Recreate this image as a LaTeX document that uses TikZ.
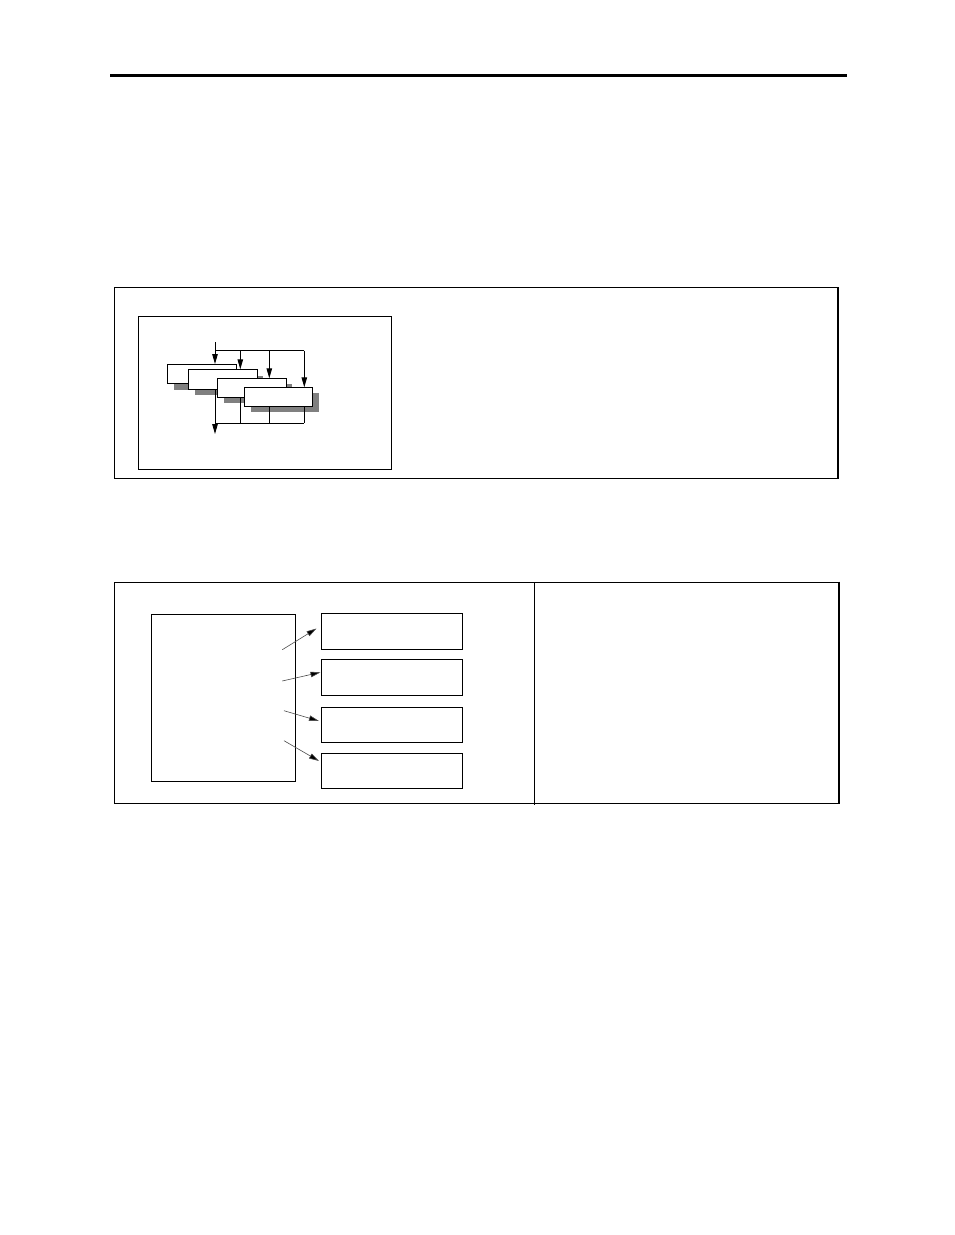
\documentclass[tikz,border=0pt]{standalone}
\usetikzlibrary{arrows.meta}
\begin{document}
\begin{tikzpicture}[x=1pt,y=-1pt,
  frame/.style={draw=black,line width=1pt},
  thickedge/.style={draw=black,line width=2pt},
  box/.style={draw=black,fill=white,line width=0.9pt},
  shadowbox/.style={fill=black!50,draw=none},
  wire/.style={draw=black,line width=0.9pt},
  tip/.style={-{Triangle[length=10pt,width=5.5pt]}},
  thinarrow/.style={draw=black!70,line width=0.6pt,-{Triangle[length=10pt,width=5.5pt,fill=black]}}
]
\useasboundingbox (0,0) rectangle (954,1235);
% top rule
\draw[line width=2.6pt] (110,75.5) -- (847,75.5);

% ---- frame 1 ----
\draw[frame] (114.3,287.5) rectangle (837.5,478.5);
\draw[thickedge] (837.5,287) -- (837.5,479.3);
\draw[box] (138.3,316.5) rectangle (391,469);

% top input wires
\coordinate (in0) at (215,342);
\coordinate (j1) at (215,350.7);
\coordinate (j2) at (240.3,350.7);
\coordinate (j3) at (269.3,350.7);
\coordinate (j4) at (304.3,350.7);
\draw[wire] (in0) -- (j1) -- (j4);

% stacked boxes with shadows
\fill[shadowbox] (174,370) rectangle (243,390);
\draw[box] (167.3,364) rectangle (236.7,383.3);
\fill[shadowbox] (195,375.5) rectangle (263,395.3);
\draw[box] (188.3,369.3) rectangle (257.7,389.3);
\fill[shadowbox] (223.5,384) rectangle (292,402.7);
\draw[box] (217.3,378.3) rectangle (286.7,397.3);
\fill[shadowbox] (250.5,393) rectangle (319,411.7);
\draw[box] (244.3,387.3) rectangle (312.3,406.7);

\coordinate (b1) at (215,364);
\coordinate (b2) at (240.3,369.3);
\coordinate (b3) at (269.3,378.3);
\coordinate (b4) at (304.3,387.3);
\draw[wire,tip] (j1) -- (b1);
\draw[wire,tip] (j2) -- (b2);
\draw[wire,tip] (j3) -- (b3);
\draw[wire,tip] (j4) -- (b4);

% bottom output wires
\coordinate (o1) at (215,389.3);
\coordinate (o2) at (240.3,397.3);
\coordinate (o3) at (269.3,406.7);
\coordinate (o4) at (304.3,406.7);
\coordinate (k1) at (215,423.3);
\coordinate (k2) at (240.3,423.3);
\coordinate (k3) at (269.3,423.3);
\coordinate (k4) at (304.3,423.3);
\coordinate (out) at (215,434);
\draw[wire] (o1) -- (k1);
\draw[wire] (o2) -- (k2);
\draw[wire] (o3) -- (k3);
\draw[wire] (o4) -- (k4);
\draw[wire] (k1) -- (k4);
\draw[wire,tip] (k1) -- (out);

% ---- frame 2 ----
\draw[frame] (114.3,582) rectangle (838.5,803);
\draw[thickedge] (838.5,581.5) -- (838.5,803.8);
\draw[line width=0.9pt] (534.5,582) -- (534.5,805);

\node[box,minimum width=144pt,minimum height=167pt,inner sep=0pt,anchor=north west] (src) at (151.3,614.3) {};
\node[box,minimum width=140.4pt,minimum height=35.7pt,inner sep=0pt,anchor=north west] (d1) at (321.3,613.3) {};
\node[box,minimum width=140.4pt,minimum height=35.7pt,inner sep=0pt,anchor=north west] (d2) at (321.3,659.3) {};
\node[box,minimum width=140.4pt,minimum height=35pt,inner sep=0pt,anchor=north west] (d3) at (321.3,707.3) {};
\node[box,minimum width=140.4pt,minimum height=35pt,inner sep=0pt,anchor=north west] (d4) at (321.3,753.3) {};

\coordinate (s1) at (282.3,649.7);
\coordinate (s2) at (282.3,681);
\coordinate (s3) at (284,710.7);
\coordinate (s4) at (284,740.7);
\draw[thinarrow] (s1) -- (316.5,628.5);
\draw[thinarrow] (s2) -- (320.5,672.3);
\draw[thinarrow] (s3) -- (319,721);
\draw[thinarrow] (s4) -- (319,761);
\end{tikzpicture}
\end{document}
